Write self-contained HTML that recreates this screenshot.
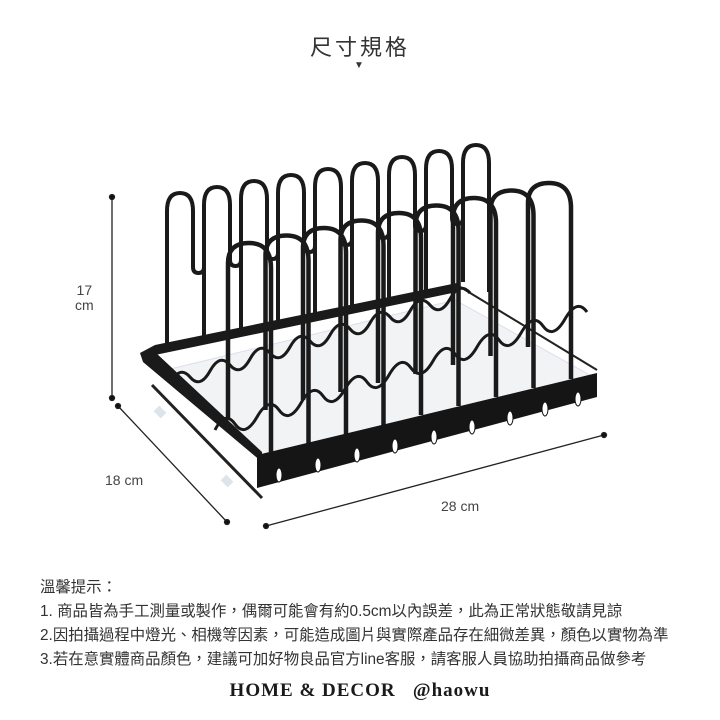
<!DOCTYPE html>
<html><head><meta charset="utf-8"><style>
html,body{margin:0;padding:0;background:#fff;}
body{width:720px;height:720px;position:relative;overflow:hidden;font-family:"Liberation Sans","Noto Sans CJK TC",sans-serif;color:#333;}
.t{position:absolute;white-space:nowrap;}
</style></head><body>
<div class="t" style="left:0;width:720px;text-align:center;top:30px;font-size:22px;letter-spacing:3px;color:#333;">尺寸規格</div>
<div class="t" style="left:354px;top:60px;font-size:10px;color:#333;">▼</div>
<svg width="720" height="720" style="position:absolute;left:0;top:0">
<g stroke="#222" stroke-width="1.3" fill="#111">
<line x1="112" y1="197" x2="112" y2="398"/><circle cx="112" cy="197" r="2.5"/><circle cx="112" cy="398" r="2.5"/>
<line x1="118" y1="406" x2="227" y2="522"/><circle cx="118" cy="406" r="2.5"/><circle cx="227" cy="522" r="2.5"/>
<line x1="266" y1="526" x2="604" y2="435"/><circle cx="266" cy="526" r="2.5"/><circle cx="604" cy="435" r="2.5"/>
</g>
<polygon points="158,372 455,300 595,378 262,458" fill="#f1f3f5" stroke="#dde" stroke-width="1"/>
<polygon points="155,345 457,283 457,292 155,355" fill="#1a1a1a"/>
<line x1="457" y1="285" x2="597" y2="370" stroke="#222" stroke-width="2"/>
<g fill="none" stroke="#1a1a1a" stroke-width="4" stroke-linejoin="round">
<path d="M167,352 L167,211 Q167,193 180,193 Q193,193 193,211 L193,267 Q193,273 198.5,273 Q204,273 204,267 L204,205 Q204,187 217,187 Q230,187 230,205 L230,260 Q230,266 235.5,266 Q241,266 241,260 L241,199 Q241,181 254,181 Q267,181 267,199 L267,253 Q267,259 272.5,259 Q278,259 278,253 L278,193 Q278,175 291,175 Q304,175 304,193 L304,246 Q304,252 309.5,252 Q315,252 315,246 L315,187 Q315,169 328,169 Q341,169 341,187 L341,239 Q341,245 346.5,245 Q352,245 352,239 L352,181 Q352,163 365,163 Q378,163 378,181 L378,232 Q378,238 383.5,238 Q389,238 389,232 L389,175 Q389,157 402,157 Q415,157 415,175 L415,225 Q415,231 420.5,231 Q426,231 426,225 L426,169 Q426,151 439,151 Q452,151 452,169 L452,218 Q452,224 457.5,224 Q463,224 463,218 L463,163 Q463,145 476,145 Q489,145 489,163 L489,292"/>
<path d="M204,267 L204,336 M241,260 L241,328 M278,253 L278,321 M315,246 L315,313 M352,239 L352,305 M389,232 L389,298 M426,225 L426,290 M463,218 L463,282"/>
</g>
<g fill="none" stroke="#1a1a1a" stroke-width="3">
<path d="M170,383 q10,-18 20,-6 t20,-6 t20,-6 t20,-6 t20,-6 t20,-6 t20,-6 t20,-6 t20,-6 t20,-6 t20,-6 t20,-6 t20,-6 t20,-6 t20,-6"/>
<path d="M215,430 q10,-20 20,-6 t22,-7 t22,-7 t22,-7 t22,-7 t22,-7 t22,-7 t22,-7 t22,-7 t22,-7 t22,-7 t22,-7 t22,-7 t22,-7 t22,-7 t22,-7 t22,-7"/>
</g>
<g fill="none" stroke="#1a1a1a" stroke-width="4.5">
<path d="M228,420 L228,263 Q228,243 249,243 Q271,243 271,268 L271,452"/>
<path d="M265.5,410 L265.5,255.5 Q265.5,235.5 286.5,235.5 Q308.5,235.5 308.5,260.5 L308.5,443"/>
<path d="M303,400 L303,248 Q303,228 324,228 Q346,228 346,253 L346,434"/>
<path d="M340.5,392 L340.5,240.5 Q340.5,220.5 361.5,220.5 Q383.5,220.5 383.5,245.5 L383.5,425"/>
<path d="M378,383 L378,233 Q378,213 399,213 Q421,213 421,238 L421,415"/>
<path d="M415.5,374 L415.5,225.5 Q415.5,205.5 436.5,205.5 Q458.5,205.5 458.5,230.5 L458.5,406"/>
<path d="M453,365 L453,218 Q453,198 474,198 Q496,198 496,223 L496,397"/>
<path d="M490.5,356 L490.5,210.5 Q490.5,190.5 511.5,190.5 Q533.5,190.5 533.5,215.5 L533.5,388"/>
<path d="M528,347 L528,203 Q528,183 549,183 Q571,183 571,208 L571,379"/>
</g>
<polygon points="140,353 155,345 155,352 262,452 262,462 143,362" fill="#1a1a1a"/>
<line x1="152" y1="385" x2="262" y2="498" stroke="#222" stroke-width="3"/>
<rect x="155" y="408" width="10" height="8" fill="#dde4ea" transform="rotate(45 160 412)"/>
<rect x="222" y="477" width="10" height="8" fill="#dde4ea" transform="rotate(45 227 481)"/>
<polygon points="257,455 597,373 597,397 257,488" fill="#151515"/>
<g fill="#fff" stroke="#151515" stroke-width="1">
<ellipse cx="279" cy="475" rx="3" ry="7"/><ellipse cx="318" cy="465" rx="3" ry="7"/><ellipse cx="357" cy="455" rx="3" ry="7"/>
<ellipse cx="395" cy="446" rx="3" ry="7"/><ellipse cx="434" cy="437" rx="3" ry="7"/><ellipse cx="472" cy="427" rx="3" ry="7"/>
<ellipse cx="510" cy="418" rx="3" ry="7"/><ellipse cx="545" cy="409" rx="3" ry="7"/><ellipse cx="578" cy="399" rx="3" ry="7"/>
</g>
</svg>
<div class="t" style="left:75px;top:283px;font-size:14px;line-height:15px;text-align:center;color:#444;">17<br>cm</div>
<div class="t" style="left:105px;top:472px;font-size:14px;color:#444;">18 cm</div>
<div class="t" style="left:441px;top:498px;font-size:14px;color:#444;">28 cm</div>
<div class="t" style="left:40px;top:576px;font-size:15.4px;line-height:24px;color:#333;">溫馨提示：<br>1. 商品皆為手工測量或製作，偶爾可能會有約0.5cm以內誤差，此為正常狀態敬請見諒<br>2.因拍攝過程中燈光、相機等因素，可能造成圖片與實際產品存在細微差異，顏色以實物為準<br>3.若在意實體商品顏色，建議可加好物良品官方line客服，請客服人員協助拍攝商品做參考</div>
<div class="t" style="left:0;width:720px;text-align:center;top:680px;font-family:'Liberation Serif',serif;font-weight:bold;font-size:19px;color:#1a1a1a;letter-spacing:1px;">HOME &amp; DECOR &nbsp;&nbsp;@haowu</div>
</body></html>
